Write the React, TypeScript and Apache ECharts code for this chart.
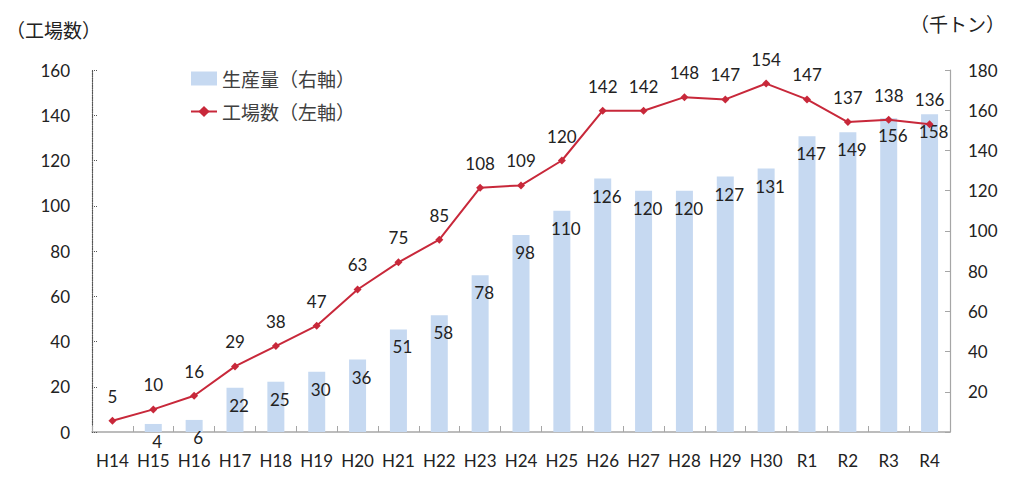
import React, { useEffect, useRef } from "react";
import * as echarts from "echarts";

const categories = ["H14","H15","H16","H17","H18","H19","H20","H21","H22","H23","H24","H25","H26","H27","H28","H29","H30","R1","R2","R3","R4"];
const production = [null,4,6,22,25,30,36,51,58,78,98,110,126,120,120,127,131,147,149,156,158];
const factories = [5,10,16,29,38,47,63,75,85,108,109,120,142,142,148,147,154,147,137,138,136];
const leftTicks = { min: 0, max: 160, interval: 20 };
const rightTicks = { min: 0, max: 180, interval: 20 };

const FONT = "Lato, 'Noto Sans', 'Noto Sans CJK JP', sans-serif";
const JFONT = "'Noto Sans CJK JP', 'Noto Sans', sans-serif";

export default function App() {
  const ref = useRef<HTMLDivElement>(null);
  useEffect(() => {
    const chart = echarts.init(ref.current!, null, { renderer: "svg" });
    chart.setOption({
      animation: false,
      backgroundColor: "#ffffff",
      grid: { left: 92, right: 74, top: 70, bottom: 53, containLabel: false },
      legend: {
        left: 185,
        top: 64,
        orient: "vertical",
        itemGap: 14,
        itemWidth: 26,
        itemHeight: 14,
        textStyle: { fontFamily: JFONT, fontSize: 19, color: "#404040" },
        data: [
          { name: "生産量（右軸）", icon: "rect" },
          { name: "工場数（左軸）" },
        ],
      },
      graphic: [
        { type: "text", left: 6, top: 20, style: { text: "（工場数）", font: `19px ${JFONT}`, fill: "#222" } },
        { type: "text", left: 910, top: 14, style: { text: "（千トン）", font: `19px ${JFONT}`, fill: "#222" } },
      ],
      xAxis: {
        type: "category",
        data: categories,
        boundaryGap: true,
        axisLine: { lineStyle: { color: "#a6a6a6", width: 1.5 } },
        axisTick: { show: true, alignWithLabel: false, interval: 0, length: 6, inside: true, lineStyle: { color: "#a6a6a6" } },
        axisLabel: { interval: 0, margin: 20, fontFamily: FONT, fontSize: 17, color: "#222" },
      },
      yAxis: [
        {
          type: "value",
          ...leftTicks,
          position: "left",
          splitLine: { show: false },
          axisLine: { show: true, lineStyle: { color: "#555", type: "dotted", width: 1.2 } },
          axisTick: { show: true, inside: true, length: 5, lineStyle: { color: "#555", type: "dotted" } },
          axisLabel: { margin: 22, fontFamily: FONT, fontSize: 17, color: "#222" },
        },
        {
          type: "value",
          ...rightTicks,
          position: "right",
          splitLine: { show: false },
          axisLine: { show: true, lineStyle: { color: "#a6a6a6", width: 1.2 } },
          axisTick: { show: true, inside: true, length: 5, lineStyle: { color: "#a6a6a6" } },
          axisLabel: {
            margin: 18,
            fontFamily: FONT,
            fontSize: 17,
            color: "#222",
            formatter: (v: number) => (v === 0 ? "" : String(v)),
          },
        },
      ],
      series: [
        {
          name: "生産量（右軸）",
          type: "bar",
          yAxisIndex: 1,
          data: production,
          barWidth: 17,
          itemStyle: { color: "#c6d9f1" },
          label: {
            show: true,
            position: "insideTop",
            distance: 9,
            offset: [4, 0],
            fontFamily: FONT,
            fontSize: 17,
            color: "#222",
          },
          z: 1,
        },
        {
          name: "工場数（左軸）",
          type: "line",
          yAxisIndex: 0,
          data: factories,
          symbol: "diamond",
          symbolSize: 8,
          lineStyle: { color: "#c8283a", width: 2 },
          itemStyle: { color: "#c8283a" },
          label: {
            show: true,
            position: "top",
            distance: 12,
            fontFamily: FONT,
            fontSize: 17,
            color: "#222",
          },
          z: 3,
        },
      ],
    });
    return () => chart.dispose();
  }, []);
  return <div ref={ref} style={{ width: 1024, height: 485, position: "absolute", left: 0, top: 0 }} />;
}
